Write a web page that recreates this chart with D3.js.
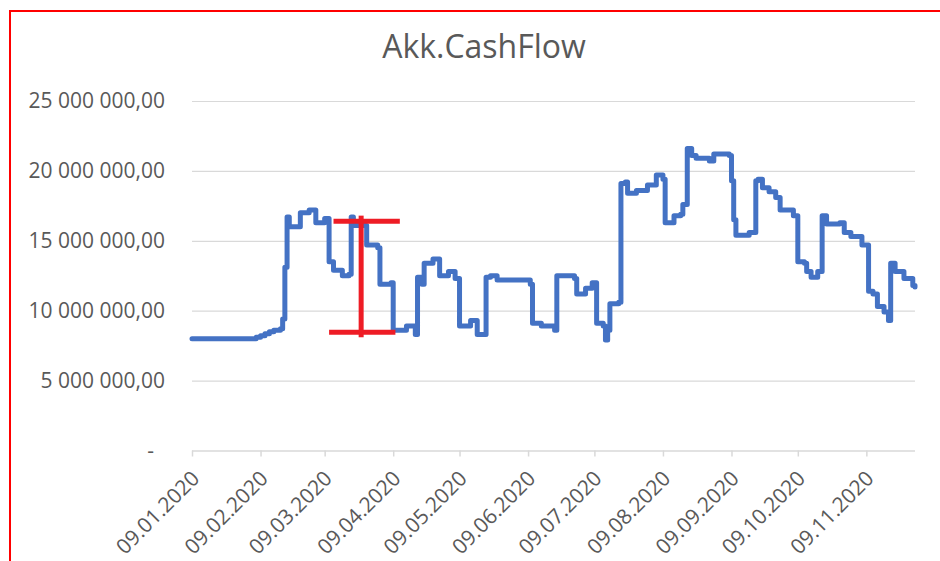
<!DOCTYPE html>
<html>
<head>
<meta charset="utf-8">
<script src="https://cdn.jsdelivr.net/npm/d3@7"></script>
<style>
  html, body { margin: 0; padding: 0; background: #fff; }
  svg { display: block; font-family: "Open Sans", sans-serif; }
</style>
</head>
<body>
<div class="chart"></div>
<script>
// daily balance (only the turning points)
const dates = [
  "2020-01-09", "2020-02-05", "2020-02-07", "2020-02-09", "2020-02-11", "2020-02-13", "2020-02-15", "2020-02-18",
  "2020-02-19", "2020-02-20",
  "2020-02-21", "2020-02-22", "2020-02-24", "2020-02-27", "2020-03-02", "2020-03-05", "2020-03-09", "2020-03-10",
  "2020-03-11", "2020-03-13", "2020-03-17", "2020-03-20", "2020-03-21", "2020-03-22", "2020-03-27", "2020-03-28",
  "2020-04-02", "2020-04-03", "2020-04-08", "2020-04-09", "2020-04-15", "2020-04-19", "2020-04-20", "2020-04-22",
  "2020-04-23", "2020-04-27", "2020-04-30", "2020-05-04", "2020-05-07", "2020-05-09", "2020-05-14", "2020-05-17",
  "2020-05-20", "2020-05-21", "2020-05-23", "2020-05-26", "2020-06-02", "2020-06-10", "2020-06-11", "2020-06-15",
  "2020-06-21", "2020-06-22", "2020-06-30", "2020-07-01", "2020-07-05", "2020-07-08", "2020-07-10", "2020-07-13",
  "2020-07-14", "2020-07-15", "2020-07-16", "2020-07-20", "2020-07-21", "2020-07-23", "2020-07-24", "2020-07-28",
  "2020-08-02", "2020-08-06", "2020-08-09", "2020-08-10", "2020-08-14", "2020-08-17", "2020-08-18", "2020-08-20",
  "2020-08-22", "2020-08-24", "2020-08-30", "2020-09-01", "2020-09-08", "2020-09-09", "2020-09-10", "2020-09-11",
  "2020-09-14", "2020-09-17", "2020-09-20", "2020-09-21", "2020-09-23", "2020-09-26", "2020-09-29", "2020-10-01",
  "2020-10-05", "2020-10-07", "2020-10-09", "2020-10-12", "2020-10-13", "2020-10-15", "2020-10-18", "2020-10-20",
  "2020-10-22", "2020-10-28", "2020-10-30", "2020-11-02", "2020-11-07", "2020-11-10", "2020-11-12", "2020-11-14",
  "2020-11-17", "2020-11-19", "2020-11-20", "2020-11-22", "2020-11-26", "2020-11-30", "2020-12-01"
]
const values = [
  8.0e6, 8.0e6, 8.1e6, 8.2e6, 8.35e6, 8.5e6, 8.6e6, 8.7e6,
  9.4e6, 13.1e6,
  16.7e6, 16.0e6, 16.0e6, 17.0e6, 17.2e6, 16.3e6, 16.6e6, 16.6e6,
  13.5e6, 12.9e6, 12.5e6, 12.6e6, 16.7e6, 16.1e6, 16.1e6, 14.7e6,
  14.5e6, 11.9e6, 12.0e6, 8.6e6, 8.9e6, 8.3e6, 12.4e6, 11.9e6,
  13.4e6, 13.7e6, 12.5e6, 12.8e6, 12.3e6, 8.9e6, 9.3e6, 8.3e6,
  8.3e6, 12.4e6, 12.5e6, 12.2e6, 12.2e6, 11.9e6, 9.1e6, 8.9e6,
  8.6e6, 12.5e6, 12.3e6, 11.2e6, 11.6e6, 12.0e6, 9.1e6, 8.9e6,
  7.9e6, 8.6e6, 10.5e6, 10.6e6, 19.1e6, 19.2e6, 18.4e6, 18.6e6,
  19.0e6, 19.7e6, 19.4e6, 16.3e6, 16.8e6, 16.9e6, 17.6e6, 21.6e6,
  21.1e6, 20.9e6, 20.7e6, 21.2e6, 21.1e6, 19.3e6, 16.5e6, 15.4e6,
  15.4e6, 15.6e6, 19.3e6, 19.4e6, 18.8e6, 18.5e6, 18.1e6, 17.2e6,
  17.2e6, 16.8e6, 13.5e6, 13.4e6, 12.8e6, 12.4e6, 12.8e6, 16.8e6,
  16.2e6, 16.3e6, 15.6e6, 15.3e6, 14.7e6, 11.4e6, 11.2e6, 10.3e6,
  9.9e6, 9.3e6, 13.4e6, 12.8e6, 12.3e6, 11.8e6, 11.7e6
]

const tickDates = ["2020-01-09", "2020-02-09", "2020-03-09", "2020-04-09", "2020-05-09", "2020-06-09",
                   "2020-07-09", "2020-08-09", "2020-09-09", "2020-10-09", "2020-11-09"]
const yTicks = [0, 5e6, 10e6, 15e6, 20e6, 25e6]

// red marker drawn over the chart (range bar)
const markDate = "2020-03-25T12:00"
const markTop = 16.8e6, markBottom = 8.1e6
const barTop = {from: "2020-03-13", to: "2020-04-12", value: 16.4e6}
const barBottom = {from: "2020-03-11", to: "2020-04-10", value: 8.45e6}

const width = 940, height = 561
const parse = d3.isoParse
const data = dates.map((d, i) => ({date: parse(d), value: values[i]}))

const x = d3.scaleTime()
  .domain([parse("2020-01-09"), parse("2020-12-01")])
  .range([192, 915])
const y = d3.scaleLinear()
  .domain([0, 25e6])
  .range([450.5, 101])

const locale = d3.formatLocale({decimal: ",", thousands: " ", grouping: [3], currency: ["", ""]})
const fmt = locale.format(",.2f")
const fmtDate = d3.timeFormat("%d.%m.%Y")

const svg = d3.select(".chart")
  .append("svg")
    .attr("width", width)
    .attr("height", height)

// red frame around the screenshot
svg.append("rect")
  .attr("x", 10).attr("y", 11)
  .attr("width", width + 10).attr("height", height + 10)
  .attr("fill", "none")
  .attr("stroke", "#ff0000")
  .attr("stroke-width", 2)

svg.append("text")
  .attr("x", 484).attr("y", 58)
  .attr("text-anchor", "middle")
  .attr("font-size", 32)
  .attr("fill", "#595959")
  .text("Akk.CashFlow")

// gridlines + y labels
const yAxis = svg.append("g")
  .attr("transform", "translate(192,0)")
  .call(d3.axisLeft(y).tickValues(yTicks).tickSize(-723).tickPadding(27)
    .tickFormat((d) => d === 0 ? "-" : fmt(d)))
yAxis.select(".domain").remove()
yAxis.selectAll(".tick line")
  .attr("stroke", (d) => d === 0 ? "none" : "#d9d9d9")
  .attr("stroke-width", 1.2)
yAxis.selectAll(".tick text")
  .attr("font-size", 21)
  .attr("fill", "#595959")
  .attr("font-family", "Open Sans")
  .attr("x", (d) => d === 0 ? -38 : -27)

// x axis
const xAxis = svg.append("g")
  .attr("transform", "translate(0," + y(0) + ")")
  .call(d3.axisBottom(x).tickValues(tickDates.map(parse)).tickSize(6).tickSizeOuter(0)
    .tickFormat(fmtDate))
xAxis.select(".domain")
  .attr("stroke", "#d9d9d9")
  .attr("stroke-width", 1.5)
  .attr("d", "M192,0.5H915")
xAxis.selectAll(".tick line")
  .attr("stroke", "#d9d9d9")
  .attr("stroke-width", 1.5)
xAxis.selectAll(".tick text")
  .attr("font-size", 21)
  .attr("font-family", "Open Sans")
  .attr("fill", "#595959")
  .attr("text-anchor", "end")
  .attr("y", 0)
  .attr("dy", "0.35em")
  .attr("transform", "translate(3,24) rotate(-45)")

const line = d3.line()
  .curve(d3.curveStepAfter)
  .x((d) => x(d.date))
  .y((d) => y(d.value))

svg.append("path")
  .datum(data)
  .attr("fill", "none")
  .attr("stroke", "#4472c4")
  .attr("stroke-width", 5)
  .attr("stroke-linejoin", "round")
  .attr("stroke-linecap", "round")
  .attr("d", line)

const mark = svg.append("g")
  .attr("stroke", "#ee1c25")
  .attr("stroke-width", 5)
mark.append("line")
  .attr("x1", x(parse(markDate))).attr("x2", x(parse(markDate)))
  .attr("y1", y(markTop)).attr("y2", y(markBottom))
mark.selectAll("line.bar")
  .data([barTop, barBottom])
  .enter()
  .append("line")
    .attr("class", "bar")
    .attr("x1", (d) => x(parse(d.from)))
    .attr("x2", (d) => x(parse(d.to)))
    .attr("y1", (d) => y(d.value))
    .attr("y2", (d) => y(d.value))
</script>
</body>
</html>
